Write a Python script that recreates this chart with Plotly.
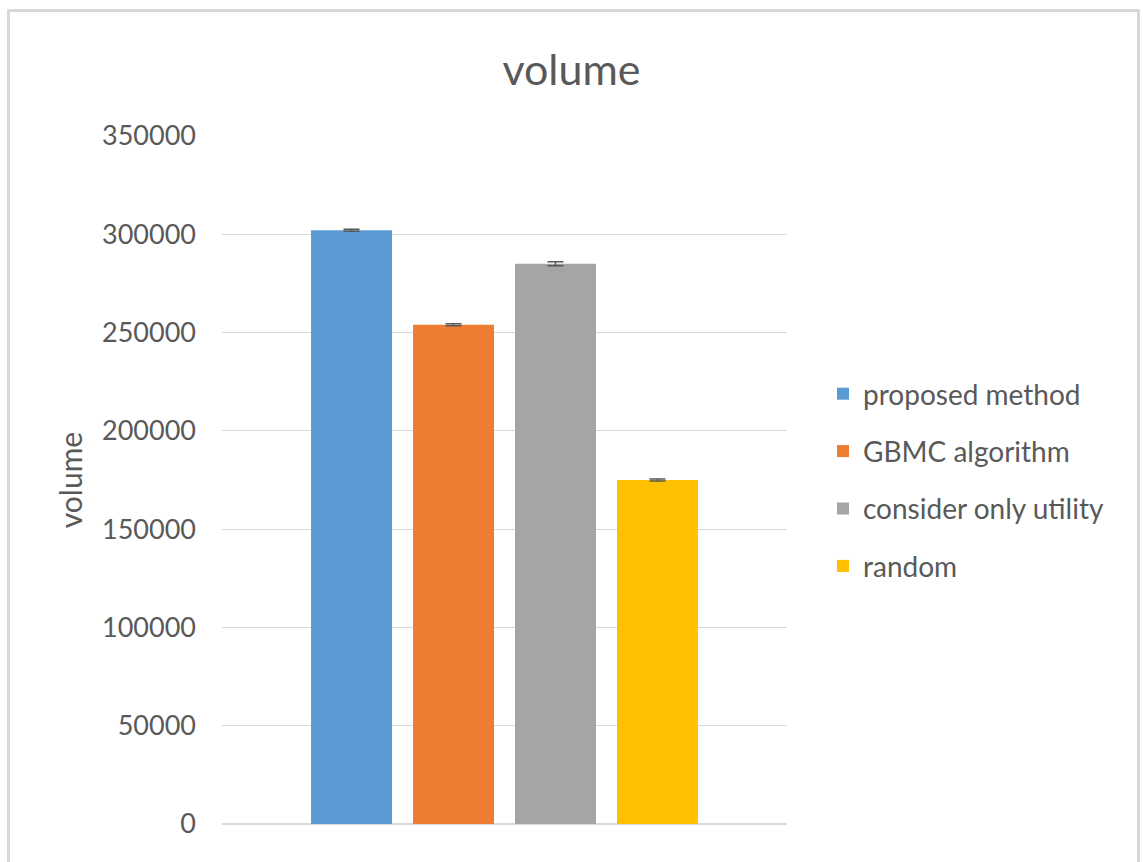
import plotly.graph_objects as go

# Series names, values and error bar half-widths
series = ["proposed method", "GBMC algorithm", "consider only utility", "random"]
volumes = [302000, 254000, 285000, 175000]
errors = [500, 500, 1000, 500]
colors = ["#5b9bd5", "#ed7d31", "#a5a5a5", "#ffc000"]
y_ticks = [0, 50000, 100000, 150000, 200000, 250000, 300000, 350000]

W, H = 1143, 862
L, R, T, B = 222, 787, 136, 824  # plot area in pixels

fig = go.Figure()
for name, v, e, c in zip(series, volumes, errors, colors):
    fig.add_trace(go.Bar(
        x=[""], y=[v], name=name, legendgroup=name,
        marker=dict(color=c, line=dict(width=0)),
        error_y=dict(type="data", array=[e], color="#595959", thickness=1.5, width=8),
    ))

pw, ph = R - L, B - T
def px(x):
    return (x - L) / pw
def py(y):
    return (B - y) / ph

fig.update_layout(
    width=W, height=H,
    margin=dict(l=L, r=W - R, t=T, b=H - B, pad=0),
    paper_bgcolor="white", plot_bgcolor="white",
    font=dict(family="Lato, Open Sans, sans-serif", color="#595959"),
    title=dict(text="volume", x=0.5, xanchor="center",
               y=1 - 70 / H, yanchor="middle", font=dict(size=43, color="#595959")),
    barmode="group", bargap=0.278, bargroupgap=0.206,
    showlegend=True,
    legend=dict(x=px(823), y=py(369), xanchor="left", yanchor="top",
                font=dict(size=28, color="#595959"), tracegroupgap=18,
                itemwidth=30, bgcolor="rgba(0,0,0,0)"),
    xaxis=dict(showticklabels=False, showgrid=False, zeroline=False,
               showline=False, ticks=""),
    yaxis=dict(range=[0, 350000], tickvals=y_ticks, ticktext=[str(t) for t in y_ticks],
               showgrid=True, gridcolor="#d9d9d9", gridwidth=1,
               zeroline=True, zerolinecolor="#d9d9d9", zerolinewidth=1.5,
               showline=False, ticks="", ticklabelstandoff=25,
               tickfont=dict(size=27, color="#595959"),
               title=dict(text="volume", font=dict(size=30, color="#595959"), standoff=10)),
    shapes=[dict(type="rect", xref="paper", yref="paper",
                 x0=px(8.5), x1=px(1138.5), y0=py(10.5), y1=py(880),
                 line=dict(color="#d9d9d9", width=3), fillcolor="rgba(0,0,0,0)", layer="below")],
)

fig.write_html("out.html")
